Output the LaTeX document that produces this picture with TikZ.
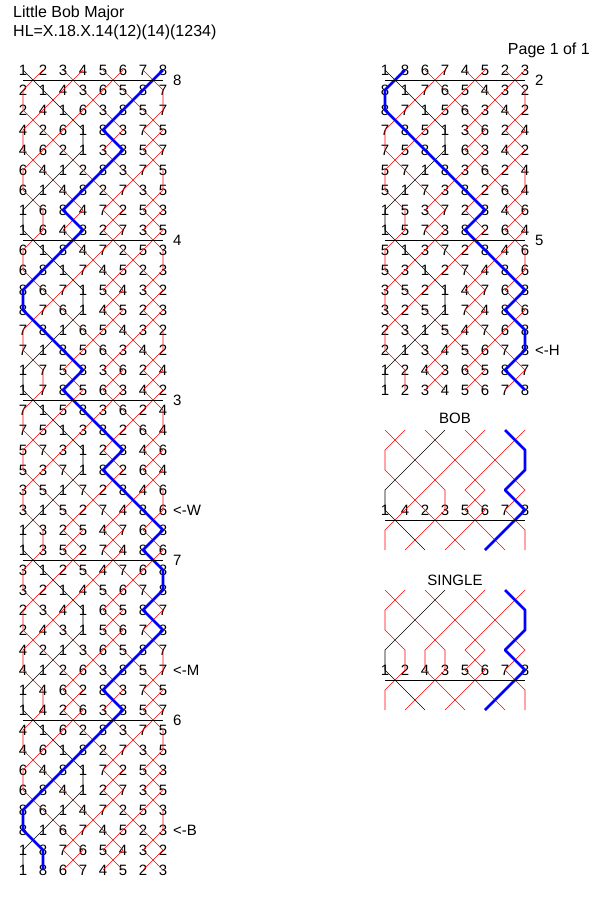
\documentclass[tikz,border=0pt]{standalone}
\usepackage{fontspec}
\setmainfont{Liberation Sans}
\tikzset{
 digit/.style={inner sep=0pt,font=\fontsize{15}{15}\selectfont},
 redline/.style={red,line width=0.6pt},
 trebline/.style={black,line width=0.6pt},
 blueline/.style={blue,line width=2.8pt,line join=round},
 leadline/.style={black,line width=0.8pt},
 lbl/.style={inner sep=0pt,anchor=west,font=\fontsize{15}{15}\selectfont},
 hdr/.style={inner sep=0pt,anchor=west,font=\fontsize{16}{16}\selectfont}}
\newcommand\ringblock[5]{%
 \foreach \r [count=\i] in {#4} {%
  \foreach \b [count=\p] in \r {%
   \coordinate (#1-b\b-\i) at ({#2+20*(\p-1)},{#3+20*(\i-1)});
   \ifnum#5=0 \node[digit] (#1-d\i-\p) at (#1-b\b-\i) {\b};\else\ifnum\i=#5 \node[digit] (#1-d\i-\p) at (#1-b\b-\i) {\b};\fi\fi
  }%
  \xdef\nrows{\i}%
 }%
 \foreach \b in {2,...,7} {\draw[redline] (#1-b\b-1) \foreach \i in {2,...,\nrows} {-- (#1-b\b-\i)};}
 \draw[trebline] (#1-b1-1) \foreach \i in {2,...,\nrows} {-- (#1-b1-\i)};
 \draw[blueline] (#1-b8-1) \foreach \i in {2,...,\nrows} {-- (#1-b8-\i)};
}
\begin{document}
\begin{tikzpicture}[x=1pt,y=-1pt]
\useasboundingbox (0,0) rectangle (600,900);
\fill[white] (0,0) rectangle (600,900);
\node[hdr] (t1) at (13,13) {Little Bob Major};
\node[hdr] (t2) at (13,32) {HL=X.18.X.14(12)(14)(1234)};
\node[hdr,anchor=east] (pg) at (590,50) {Page 1 of 1};
% left column
\ringblock{L}{23}{70}{{1,2,3,4,5,6,7,8},{2,1,4,3,6,5,8,7},{2,4,1,6,3,8,5,7},{4,2,6,1,8,3,7,5},{4,6,2,1,3,8,5,7},{6,4,1,2,8,3,7,5},{6,1,4,8,2,7,3,5},{1,6,8,4,7,2,5,3},{1,6,4,8,2,7,3,5},{6,1,8,4,7,2,5,3},{6,8,1,7,4,5,2,3},{8,6,7,1,5,4,3,2},{8,7,6,1,4,5,2,3},{7,8,1,6,5,4,3,2},{7,1,8,5,6,3,4,2},{1,7,5,8,3,6,2,4},{1,7,8,5,6,3,4,2},{7,1,5,8,3,6,2,4},{7,5,1,3,8,2,6,4},{5,7,3,1,2,8,4,6},{5,3,7,1,8,2,6,4},{3,5,1,7,2,8,4,6},{3,1,5,2,7,4,8,6},{1,3,2,5,4,7,6,8},{1,3,5,2,7,4,8,6},{3,1,2,5,4,7,6,8},{3,2,1,4,5,6,7,8},{2,3,4,1,6,5,8,7},{2,4,3,1,5,6,7,8},{4,2,1,3,6,5,8,7},{4,1,2,6,3,8,5,7},{1,4,6,2,8,3,7,5},{1,4,2,6,3,8,5,7},{4,1,6,2,8,3,7,5},{4,6,1,8,2,7,3,5},{6,4,8,1,7,2,5,3},{6,8,4,1,2,7,3,5},{8,6,1,4,7,2,5,3},{8,1,6,7,4,5,2,3},{1,8,7,6,5,4,3,2},{1,8,6,7,4,5,2,3}}{0}
\foreach \y/\t in {80/8,240/4,400/3,560/7,720/6} {\draw[leadline] (23,\y) -- (163,\y); \node[lbl] at (173,\y) {\t};}
\node[lbl] (cw) at (173,510) {<-W};
\node[lbl] (cm) at (173,670) {<-M};
\node[lbl] (cb) at (173,830) {<-B};
% right column
\ringblock{R}{385}{70}{{1,8,6,7,4,5,2,3},{8,1,7,6,5,4,3,2},{8,7,1,5,6,3,4,2},{7,8,5,1,3,6,2,4},{7,5,8,1,6,3,4,2},{5,7,1,8,3,6,2,4},{5,1,7,3,8,2,6,4},{1,5,3,7,2,8,4,6},{1,5,7,3,8,2,6,4},{5,1,3,7,2,8,4,6},{5,3,1,2,7,4,8,6},{3,5,2,1,4,7,6,8},{3,2,5,1,7,4,8,6},{2,3,1,5,4,7,6,8},{2,1,3,4,5,6,7,8},{1,2,4,3,6,5,8,7},{1,2,3,4,5,6,7,8}}{0}
\foreach \y/\t in {80/2,240/5} {\draw[leadline] (385,\y) -- (525,\y); \node[lbl] at (535,\y) {\t};}
\node[lbl] (ch) at (535,350) {<-H};
% bob
\node[digit] (bobt) at (455,418) {BOB};
\ringblock{B}{385}{430}{{3,2,5,1,7,4,8,6},{2,3,1,5,4,7,6,8},{2,1,3,4,5,6,7,8},{1,2,4,3,6,5,8,7},{1,4,2,3,5,6,7,8},{4,1,3,2,6,5,8,7},{4,3,1,6,2,8,5,7}}{5}
\draw[leadline] (385,520) -- (525,520);
% single
\node[digit] (sglt) at (455,580) {SINGLE};
\ringblock{S}{385}{590}{{3,2,5,1,7,4,8,6},{2,3,1,5,4,7,6,8},{2,1,3,4,5,6,7,8},{1,2,4,3,6,5,8,7},{1,2,4,3,5,6,7,8},{2,1,3,4,6,5,8,7},{2,3,1,6,4,8,5,7}}{5}
\draw[leadline] (385,680) -- (525,680);
\end{tikzpicture}
\end{document}
